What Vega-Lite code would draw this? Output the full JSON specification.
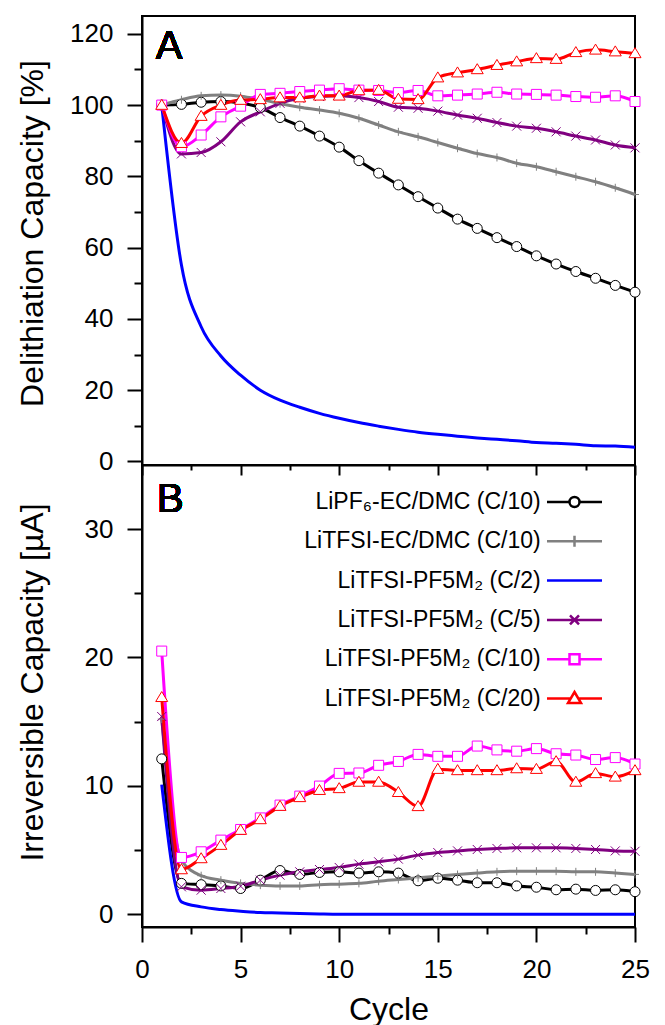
{
  "$schema": "https://vega.github.io/schema/vega-lite/v6.json",
  "padding": {"left": 14, "top": 15, "right": 10, "bottom": 5},
  "background": "white",
  "bounds": "flush",
  "spacing": 0,
  "config": {
    "view": {"stroke": "black", "strokeWidth": 2},
    "font": "Liberation Sans",
    "axis": {"domainColor": "black", "domainWidth": 2, "tickColor": "black", "tickWidth": 2, "labelFont": "Liberation Sans", "labelFontSize": 26, "labelColor": "black", "labelPadding": 14, "titleFont": "Liberation Sans", "titleFontSize": 32, "titleFontWeight": "normal", "titleColor": "black", "grid": false, "labelFlush": false, "labelOverlap": false}
  },
  "resolve": {"scale": {"x": "independent", "y": "independent", "color": "independent", "shape": "independent"}},
  "datasets": {
    "A": [
      {"s":"LiPF₆-EC/DMC (C/10)","c":1,"v":100},{"s":"LiPF₆-EC/DMC (C/10)","c":2,"v":100.2},{"s":"LiPF₆-EC/DMC (C/10)","c":3,"v":100.8},{"s":"LiPF₆-EC/DMC (C/10)","c":4,"v":101.0},{"s":"LiPF₆-EC/DMC (C/10)","c":5,"v":100.6},{"s":"LiPF₆-EC/DMC (C/10)","c":6,"v":99.3},{"s":"LiPF₆-EC/DMC (C/10)","c":7,"v":96.5},{"s":"LiPF₆-EC/DMC (C/10)","c":8,"v":94.1},{"s":"LiPF₆-EC/DMC (C/10)","c":9,"v":91.3},{"s":"LiPF₆-EC/DMC (C/10)","c":10,"v":88.2},{"s":"LiPF₆-EC/DMC (C/10)","c":11,"v":84.4},{"s":"LiPF₆-EC/DMC (C/10)","c":12,"v":80.9},{"s":"LiPF₆-EC/DMC (C/10)","c":13,"v":77.6},{"s":"LiPF₆-EC/DMC (C/10)","c":14,"v":74.3},{"s":"LiPF₆-EC/DMC (C/10)","c":15,"v":71.1},{"s":"LiPF₆-EC/DMC (C/10)","c":16,"v":68.0},{"s":"LiPF₆-EC/DMC (C/10)","c":17,"v":65.4},{"s":"LiPF₆-EC/DMC (C/10)","c":18,"v":62.8},{"s":"LiPF₆-EC/DMC (C/10)","c":19,"v":60.3},{"s":"LiPF₆-EC/DMC (C/10)","c":20,"v":57.7},{"s":"LiPF₆-EC/DMC (C/10)","c":21,"v":55.4},{"s":"LiPF₆-EC/DMC (C/10)","c":22,"v":53.3},{"s":"LiPF₆-EC/DMC (C/10)","c":23,"v":51.4},{"s":"LiPF₆-EC/DMC (C/10)","c":24,"v":49.4},{"s":"LiPF₆-EC/DMC (C/10)","c":25,"v":47.5},
      {"s":"LiTFSI-EC/DMC (C/10)","c":1,"v":100},{"s":"LiTFSI-EC/DMC (C/10)","c":2,"v":101.5},{"s":"LiTFSI-EC/DMC (C/10)","c":3,"v":102.6},{"s":"LiTFSI-EC/DMC (C/10)","c":4,"v":102.8},{"s":"LiTFSI-EC/DMC (C/10)","c":5,"v":102.5},{"s":"LiTFSI-EC/DMC (C/10)","c":6,"v":101.6},{"s":"LiTFSI-EC/DMC (C/10)","c":7,"v":100.4},{"s":"LiTFSI-EC/DMC (C/10)","c":8,"v":99.4},{"s":"LiTFSI-EC/DMC (C/10)","c":9,"v":98.6},{"s":"LiTFSI-EC/DMC (C/10)","c":10,"v":97.7},{"s":"LiTFSI-EC/DMC (C/10)","c":11,"v":96.3},{"s":"LiTFSI-EC/DMC (C/10)","c":12,"v":94.4},{"s":"LiTFSI-EC/DMC (C/10)","c":13,"v":92.5},{"s":"LiTFSI-EC/DMC (C/10)","c":14,"v":91.1},{"s":"LiTFSI-EC/DMC (C/10)","c":15,"v":89.5},{"s":"LiTFSI-EC/DMC (C/10)","c":16,"v":87.9},{"s":"LiTFSI-EC/DMC (C/10)","c":17,"v":86.4},{"s":"LiTFSI-EC/DMC (C/10)","c":18,"v":85.3},{"s":"LiTFSI-EC/DMC (C/10)","c":19,"v":83.7},{"s":"LiTFSI-EC/DMC (C/10)","c":20,"v":82.7},{"s":"LiTFSI-EC/DMC (C/10)","c":21,"v":81.3},{"s":"LiTFSI-EC/DMC (C/10)","c":22,"v":79.9},{"s":"LiTFSI-EC/DMC (C/10)","c":23,"v":78.5},{"s":"LiTFSI-EC/DMC (C/10)","c":24,"v":76.8},{"s":"LiTFSI-EC/DMC (C/10)","c":25,"v":74.9},
      {"s":"LiTFSI-PF5M₂ (C/2)","c":1,"v":100},{"s":"LiTFSI-PF5M₂ (C/2)","c":2,"v":55.1},{"s":"LiTFSI-PF5M₂ (C/2)","c":3,"v":37.8},{"s":"LiTFSI-PF5M₂ (C/2)","c":4,"v":29.6},{"s":"LiTFSI-PF5M₂ (C/2)","c":5,"v":24.2},{"s":"LiTFSI-PF5M₂ (C/2)","c":6,"v":20.0},{"s":"LiTFSI-PF5M₂ (C/2)","c":7,"v":17.2},{"s":"LiTFSI-PF5M₂ (C/2)","c":8,"v":15.2},{"s":"LiTFSI-PF5M₂ (C/2)","c":9,"v":13.5},{"s":"LiTFSI-PF5M₂ (C/2)","c":10,"v":12.1},{"s":"LiTFSI-PF5M₂ (C/2)","c":11,"v":10.9},{"s":"LiTFSI-PF5M₂ (C/2)","c":12,"v":9.9},{"s":"LiTFSI-PF5M₂ (C/2)","c":13,"v":9.0},{"s":"LiTFSI-PF5M₂ (C/2)","c":14,"v":8.2},{"s":"LiTFSI-PF5M₂ (C/2)","c":15,"v":7.6},{"s":"LiTFSI-PF5M₂ (C/2)","c":16,"v":7.1},{"s":"LiTFSI-PF5M₂ (C/2)","c":17,"v":6.6},{"s":"LiTFSI-PF5M₂ (C/2)","c":18,"v":6.2},{"s":"LiTFSI-PF5M₂ (C/2)","c":19,"v":5.8},{"s":"LiTFSI-PF5M₂ (C/2)","c":20,"v":5.3},{"s":"LiTFSI-PF5M₂ (C/2)","c":21,"v":5.1},{"s":"LiTFSI-PF5M₂ (C/2)","c":22,"v":4.8},{"s":"LiTFSI-PF5M₂ (C/2)","c":23,"v":4.4},{"s":"LiTFSI-PF5M₂ (C/2)","c":24,"v":4.3},{"s":"LiTFSI-PF5M₂ (C/2)","c":25,"v":4.0},
      {"s":"LiTFSI-PF5M₂ (C/5)","c":1,"v":100},{"s":"LiTFSI-PF5M₂ (C/5)","c":2,"v":86.3},{"s":"LiTFSI-PF5M₂ (C/5)","c":3,"v":86.7},{"s":"LiTFSI-PF5M₂ (C/5)","c":4,"v":89.7},{"s":"LiTFSI-PF5M₂ (C/5)","c":5,"v":95.3},{"s":"LiTFSI-PF5M₂ (C/5)","c":6,"v":98.1},{"s":"LiTFSI-PF5M₂ (C/5)","c":7,"v":100.5},{"s":"LiTFSI-PF5M₂ (C/5)","c":8,"v":101.9},{"s":"LiTFSI-PF5M₂ (C/5)","c":9,"v":102.4},{"s":"LiTFSI-PF5M₂ (C/5)","c":10,"v":102.6},{"s":"LiTFSI-PF5M₂ (C/5)","c":11,"v":102.1},{"s":"LiTFSI-PF5M₂ (C/5)","c":12,"v":101.0},{"s":"LiTFSI-PF5M₂ (C/5)","c":13,"v":99.4},{"s":"LiTFSI-PF5M₂ (C/5)","c":14,"v":99.1},{"s":"LiTFSI-PF5M₂ (C/5)","c":15,"v":98.3},{"s":"LiTFSI-PF5M₂ (C/5)","c":16,"v":97.2},{"s":"LiTFSI-PF5M₂ (C/5)","c":17,"v":96.3},{"s":"LiTFSI-PF5M₂ (C/5)","c":18,"v":95.1},{"s":"LiTFSI-PF5M₂ (C/5)","c":19,"v":94.1},{"s":"LiTFSI-PF5M₂ (C/5)","c":20,"v":93.5},{"s":"LiTFSI-PF5M₂ (C/5)","c":21,"v":92.5},{"s":"LiTFSI-PF5M₂ (C/5)","c":22,"v":91.3},{"s":"LiTFSI-PF5M₂ (C/5)","c":23,"v":90.2},{"s":"LiTFSI-PF5M₂ (C/5)","c":24,"v":88.8},{"s":"LiTFSI-PF5M₂ (C/5)","c":25,"v":88.0},
      {"s":"LiTFSI-PF5M₂ (C/10)","c":1,"v":100},{"s":"LiTFSI-PF5M₂ (C/10)","c":2,"v":88.3},{"s":"LiTFSI-PF5M₂ (C/10)","c":3,"v":91.6},{"s":"LiTFSI-PF5M₂ (C/10)","c":4,"v":96.7},{"s":"LiTFSI-PF5M₂ (C/10)","c":5,"v":99.7},{"s":"LiTFSI-PF5M₂ (C/10)","c":6,"v":103.0},{"s":"LiTFSI-PF5M₂ (C/10)","c":7,"v":103.3},{"s":"LiTFSI-PF5M₂ (C/10)","c":8,"v":103.8},{"s":"LiTFSI-PF5M₂ (C/10)","c":9,"v":104.2},{"s":"LiTFSI-PF5M₂ (C/10)","c":10,"v":104.6},{"s":"LiTFSI-PF5M₂ (C/10)","c":11,"v":104.2},{"s":"LiTFSI-PF5M₂ (C/10)","c":12,"v":104.1},{"s":"LiTFSI-PF5M₂ (C/10)","c":13,"v":103.5},{"s":"LiTFSI-PF5M₂ (C/10)","c":14,"v":104.1},{"s":"LiTFSI-PF5M₂ (C/10)","c":15,"v":102.6},{"s":"LiTFSI-PF5M₂ (C/10)","c":16,"v":102.8},{"s":"LiTFSI-PF5M₂ (C/10)","c":17,"v":103.1},{"s":"LiTFSI-PF5M₂ (C/10)","c":18,"v":103.6},{"s":"LiTFSI-PF5M₂ (C/10)","c":19,"v":103.1},{"s":"LiTFSI-PF5M₂ (C/10)","c":20,"v":103.0},{"s":"LiTFSI-PF5M₂ (C/10)","c":21,"v":102.8},{"s":"LiTFSI-PF5M₂ (C/10)","c":22,"v":102.4},{"s":"LiTFSI-PF5M₂ (C/10)","c":23,"v":102.2},{"s":"LiTFSI-PF5M₂ (C/10)","c":24,"v":102.6},{"s":"LiTFSI-PF5M₂ (C/10)","c":25,"v":101.0},
      {"s":"LiTFSI-PF5M₂ (C/20)","c":1,"v":100},{"s":"LiTFSI-PF5M₂ (C/20)","c":2,"v":89.3},{"s":"LiTFSI-PF5M₂ (C/20)","c":3,"v":96.9},{"s":"LiTFSI-PF5M₂ (C/20)","c":4,"v":100.0},{"s":"LiTFSI-PF5M₂ (C/20)","c":5,"v":101.4},{"s":"LiTFSI-PF5M₂ (C/20)","c":6,"v":101.6},{"s":"LiTFSI-PF5M₂ (C/20)","c":7,"v":102.1},{"s":"LiTFSI-PF5M₂ (C/20)","c":8,"v":102.1},{"s":"LiTFSI-PF5M₂ (C/20)","c":9,"v":102.6},{"s":"LiTFSI-PF5M₂ (C/20)","c":10,"v":102.6},{"s":"LiTFSI-PF5M₂ (C/20)","c":11,"v":104.1},{"s":"LiTFSI-PF5M₂ (C/20)","c":12,"v":104.2},{"s":"LiTFSI-PF5M₂ (C/20)","c":13,"v":101.7},{"s":"LiTFSI-PF5M₂ (C/20)","c":14,"v":101.6},{"s":"LiTFSI-PF5M₂ (C/20)","c":15,"v":107.7},{"s":"LiTFSI-PF5M₂ (C/20)","c":16,"v":109.1},{"s":"LiTFSI-PF5M₂ (C/20)","c":17,"v":110.0},{"s":"LiTFSI-PF5M₂ (C/20)","c":18,"v":111.2},{"s":"LiTFSI-PF5M₂ (C/20)","c":19,"v":112.2},{"s":"LiTFSI-PF5M₂ (C/20)","c":20,"v":113.1},{"s":"LiTFSI-PF5M₂ (C/20)","c":21,"v":112.9},{"s":"LiTFSI-PF5M₂ (C/20)","c":22,"v":114.8},{"s":"LiTFSI-PF5M₂ (C/20)","c":23,"v":115.5},{"s":"LiTFSI-PF5M₂ (C/20)","c":24,"v":115.0},{"s":"LiTFSI-PF5M₂ (C/20)","c":25,"v":114.5}
    ],
    "B": [
      {"s":"LiPF₆-EC/DMC (C/10)","c":1,"v":12.1},{"s":"LiPF₆-EC/DMC (C/10)","c":2,"v":2.4},{"s":"LiPF₆-EC/DMC (C/10)","c":3,"v":2.3},{"s":"LiPF₆-EC/DMC (C/10)","c":4,"v":2.2},{"s":"LiPF₆-EC/DMC (C/10)","c":5,"v":2.0},{"s":"LiPF₆-EC/DMC (C/10)","c":6,"v":2.65},{"s":"LiPF₆-EC/DMC (C/10)","c":7,"v":3.4},{"s":"LiPF₆-EC/DMC (C/10)","c":8,"v":3.1},{"s":"LiPF₆-EC/DMC (C/10)","c":9,"v":3.25},{"s":"LiPF₆-EC/DMC (C/10)","c":10,"v":3.3},{"s":"LiPF₆-EC/DMC (C/10)","c":11,"v":3.2},{"s":"LiPF₆-EC/DMC (C/10)","c":12,"v":3.3},{"s":"LiPF₆-EC/DMC (C/10)","c":13,"v":3.2},{"s":"LiPF₆-EC/DMC (C/10)","c":14,"v":2.6},{"s":"LiPF₆-EC/DMC (C/10)","c":15,"v":2.8},{"s":"LiPF₆-EC/DMC (C/10)","c":16,"v":2.65},{"s":"LiPF₆-EC/DMC (C/10)","c":17,"v":2.45},{"s":"LiPF₆-EC/DMC (C/10)","c":18,"v":2.45},{"s":"LiPF₆-EC/DMC (C/10)","c":19,"v":2.2},{"s":"LiPF₆-EC/DMC (C/10)","c":20,"v":2.1},{"s":"LiPF₆-EC/DMC (C/10)","c":21,"v":1.9},{"s":"LiPF₆-EC/DMC (C/10)","c":22,"v":1.95},{"s":"LiPF₆-EC/DMC (C/10)","c":23,"v":1.85},{"s":"LiPF₆-EC/DMC (C/10)","c":24,"v":1.9},{"s":"LiPF₆-EC/DMC (C/10)","c":25,"v":1.75},
      {"s":"LiTFSI-EC/DMC (C/10)","c":1,"v":15.2},{"s":"LiTFSI-EC/DMC (C/10)","c":2,"v":4.2},{"s":"LiTFSI-EC/DMC (C/10)","c":3,"v":3.0},{"s":"LiTFSI-EC/DMC (C/10)","c":4,"v":2.65},{"s":"LiTFSI-EC/DMC (C/10)","c":5,"v":2.4},{"s":"LiTFSI-EC/DMC (C/10)","c":6,"v":2.26},{"s":"LiTFSI-EC/DMC (C/10)","c":7,"v":2.2},{"s":"LiTFSI-EC/DMC (C/10)","c":8,"v":2.2},{"s":"LiTFSI-EC/DMC (C/10)","c":9,"v":2.3},{"s":"LiTFSI-EC/DMC (C/10)","c":10,"v":2.34},{"s":"LiTFSI-EC/DMC (C/10)","c":11,"v":2.4},{"s":"LiTFSI-EC/DMC (C/10)","c":12,"v":2.57},{"s":"LiTFSI-EC/DMC (C/10)","c":13,"v":2.7},{"s":"LiTFSI-EC/DMC (C/10)","c":14,"v":2.83},{"s":"LiTFSI-EC/DMC (C/10)","c":15,"v":2.96},{"s":"LiTFSI-EC/DMC (C/10)","c":16,"v":3.09},{"s":"LiTFSI-EC/DMC (C/10)","c":17,"v":3.2},{"s":"LiTFSI-EC/DMC (C/10)","c":18,"v":3.3},{"s":"LiTFSI-EC/DMC (C/10)","c":19,"v":3.35},{"s":"LiTFSI-EC/DMC (C/10)","c":20,"v":3.35},{"s":"LiTFSI-EC/DMC (C/10)","c":21,"v":3.35},{"s":"LiTFSI-EC/DMC (C/10)","c":22,"v":3.3},{"s":"LiTFSI-EC/DMC (C/10)","c":23,"v":3.3},{"s":"LiTFSI-EC/DMC (C/10)","c":24,"v":3.2},{"s":"LiTFSI-EC/DMC (C/10)","c":25,"v":3.1},
      {"s":"LiTFSI-PF5M₂ (C/2)","c":1,"v":10.1},{"s":"LiTFSI-PF5M₂ (C/2)","c":2,"v":0.96},{"s":"LiTFSI-PF5M₂ (C/2)","c":3,"v":0.57},{"s":"LiTFSI-PF5M₂ (C/2)","c":4,"v":0.36},{"s":"LiTFSI-PF5M₂ (C/2)","c":5,"v":0.23},{"s":"LiTFSI-PF5M₂ (C/2)","c":6,"v":0.13},{"s":"LiTFSI-PF5M₂ (C/2)","c":7,"v":0.1},{"s":"LiTFSI-PF5M₂ (C/2)","c":8,"v":0.05},{"s":"LiTFSI-PF5M₂ (C/2)","c":9,"v":0.02},{"s":"LiTFSI-PF5M₂ (C/2)","c":10,"v":0},{"s":"LiTFSI-PF5M₂ (C/2)","c":11,"v":0},{"s":"LiTFSI-PF5M₂ (C/2)","c":12,"v":0},{"s":"LiTFSI-PF5M₂ (C/2)","c":13,"v":0},{"s":"LiTFSI-PF5M₂ (C/2)","c":14,"v":0},{"s":"LiTFSI-PF5M₂ (C/2)","c":15,"v":0},{"s":"LiTFSI-PF5M₂ (C/2)","c":16,"v":0},{"s":"LiTFSI-PF5M₂ (C/2)","c":17,"v":0},{"s":"LiTFSI-PF5M₂ (C/2)","c":18,"v":0},{"s":"LiTFSI-PF5M₂ (C/2)","c":19,"v":0},{"s":"LiTFSI-PF5M₂ (C/2)","c":20,"v":0},{"s":"LiTFSI-PF5M₂ (C/2)","c":21,"v":0},{"s":"LiTFSI-PF5M₂ (C/2)","c":22,"v":0},{"s":"LiTFSI-PF5M₂ (C/2)","c":23,"v":0},{"s":"LiTFSI-PF5M₂ (C/2)","c":24,"v":0},{"s":"LiTFSI-PF5M₂ (C/2)","c":25,"v":0},
      {"s":"LiTFSI-PF5M₂ (C/5)","c":1,"v":15.4},{"s":"LiTFSI-PF5M₂ (C/5)","c":2,"v":2.13},{"s":"LiTFSI-PF5M₂ (C/5)","c":3,"v":1.87},{"s":"LiTFSI-PF5M₂ (C/5)","c":4,"v":2.0},{"s":"LiTFSI-PF5M₂ (C/5)","c":5,"v":2.18},{"s":"LiTFSI-PF5M₂ (C/5)","c":6,"v":2.65},{"s":"LiTFSI-PF5M₂ (C/5)","c":7,"v":3.04},{"s":"LiTFSI-PF5M₂ (C/5)","c":8,"v":3.3},{"s":"LiTFSI-PF5M₂ (C/5)","c":9,"v":3.48},{"s":"LiTFSI-PF5M₂ (C/5)","c":10,"v":3.64},{"s":"LiTFSI-PF5M₂ (C/5)","c":11,"v":3.9},{"s":"LiTFSI-PF5M₂ (C/5)","c":12,"v":4.08},{"s":"LiTFSI-PF5M₂ (C/5)","c":13,"v":4.29},{"s":"LiTFSI-PF5M₂ (C/5)","c":14,"v":4.6},{"s":"LiTFSI-PF5M₂ (C/5)","c":15,"v":4.8},{"s":"LiTFSI-PF5M₂ (C/5)","c":16,"v":4.93},{"s":"LiTFSI-PF5M₂ (C/5)","c":17,"v":5.04},{"s":"LiTFSI-PF5M₂ (C/5)","c":18,"v":5.12},{"s":"LiTFSI-PF5M₂ (C/5)","c":19,"v":5.17},{"s":"LiTFSI-PF5M₂ (C/5)","c":20,"v":5.17},{"s":"LiTFSI-PF5M₂ (C/5)","c":21,"v":5.17},{"s":"LiTFSI-PF5M₂ (C/5)","c":22,"v":5.12},{"s":"LiTFSI-PF5M₂ (C/5)","c":23,"v":5.04},{"s":"LiTFSI-PF5M₂ (C/5)","c":24,"v":4.93},{"s":"LiTFSI-PF5M₂ (C/5)","c":25,"v":4.9},
      {"s":"LiTFSI-PF5M₂ (C/10)","c":1,"v":20.5},{"s":"LiTFSI-PF5M₂ (C/10)","c":2,"v":4.42},{"s":"LiTFSI-PF5M₂ (C/10)","c":3,"v":4.86},{"s":"LiTFSI-PF5M₂ (C/10)","c":4,"v":5.77},{"s":"LiTFSI-PF5M₂ (C/10)","c":5,"v":6.6},{"s":"LiTFSI-PF5M₂ (C/10)","c":6,"v":7.5},{"s":"LiTFSI-PF5M₂ (C/10)","c":7,"v":8.5},{"s":"LiTFSI-PF5M₂ (C/10)","c":8,"v":9.2},{"s":"LiTFSI-PF5M₂ (C/10)","c":9,"v":9.98},{"s":"LiTFSI-PF5M₂ (C/10)","c":10,"v":10.97},{"s":"LiTFSI-PF5M₂ (C/10)","c":11,"v":11.0},{"s":"LiTFSI-PF5M₂ (C/10)","c":12,"v":11.6},{"s":"LiTFSI-PF5M₂ (C/10)","c":13,"v":11.9},{"s":"LiTFSI-PF5M₂ (C/10)","c":14,"v":12.45},{"s":"LiTFSI-PF5M₂ (C/10)","c":15,"v":12.3},{"s":"LiTFSI-PF5M₂ (C/10)","c":16,"v":12.3},{"s":"LiTFSI-PF5M₂ (C/10)","c":17,"v":13.1},{"s":"LiTFSI-PF5M₂ (C/10)","c":18,"v":12.8},{"s":"LiTFSI-PF5M₂ (C/10)","c":19,"v":12.7},{"s":"LiTFSI-PF5M₂ (C/10)","c":20,"v":12.9},{"s":"LiTFSI-PF5M₂ (C/10)","c":21,"v":12.5},{"s":"LiTFSI-PF5M₂ (C/10)","c":22,"v":12.4},{"s":"LiTFSI-PF5M₂ (C/10)","c":23,"v":12.05},{"s":"LiTFSI-PF5M₂ (C/10)","c":24,"v":12.2},{"s":"LiTFSI-PF5M₂ (C/10)","c":25,"v":11.7},
      {"s":"LiTFSI-PF5M₂ (C/20)","c":1,"v":16.9},{"s":"LiTFSI-PF5M₂ (C/20)","c":2,"v":3.48},{"s":"LiTFSI-PF5M₂ (C/20)","c":3,"v":4.34},{"s":"LiTFSI-PF5M₂ (C/20)","c":4,"v":5.38},{"s":"LiTFSI-PF5M₂ (C/20)","c":5,"v":6.55},{"s":"LiTFSI-PF5M₂ (C/20)","c":6,"v":7.38},{"s":"LiTFSI-PF5M₂ (C/20)","c":7,"v":8.42},{"s":"LiTFSI-PF5M₂ (C/20)","c":8,"v":9.1},{"s":"LiTFSI-PF5M₂ (C/20)","c":9,"v":9.66},{"s":"LiTFSI-PF5M₂ (C/20)","c":10,"v":9.8},{"s":"LiTFSI-PF5M₂ (C/20)","c":11,"v":10.3},{"s":"LiTFSI-PF5M₂ (C/20)","c":12,"v":10.3},{"s":"LiTFSI-PF5M₂ (C/20)","c":13,"v":9.5},{"s":"LiTFSI-PF5M₂ (C/20)","c":14,"v":8.4},{"s":"LiTFSI-PF5M₂ (C/20)","c":15,"v":11.3},{"s":"LiTFSI-PF5M₂ (C/20)","c":16,"v":11.2},{"s":"LiTFSI-PF5M₂ (C/20)","c":17,"v":11.2},{"s":"LiTFSI-PF5M₂ (C/20)","c":18,"v":11.2},{"s":"LiTFSI-PF5M₂ (C/20)","c":19,"v":11.35},{"s":"LiTFSI-PF5M₂ (C/20)","c":20,"v":11.3},{"s":"LiTFSI-PF5M₂ (C/20)","c":21,"v":11.9},{"s":"LiTFSI-PF5M₂ (C/20)","c":22,"v":10.3},{"s":"LiTFSI-PF5M₂ (C/20)","c":23,"v":10.97},{"s":"LiTFSI-PF5M₂ (C/20)","c":24,"v":10.7},{"s":"LiTFSI-PF5M₂ (C/20)","c":25,"v":11.2}
    ]
  },
  "vconcat": [
    {
      "width": 493, "height": 449,
      "data": {"name": "A"},
      "resolve": {"axis": {"x": "independent", "y": "independent"}},
      "layer": [
        {
          "mark": {"type": "line", "strokeWidth": 3, "interpolate": "monotone"},
          "encoding": {
            "x": {"field": "c", "type": "quantitative", "scale": {"domain": [0, 25], "nice": false}, "axis": {"orient": "bottom", "values": [0, 5, 10, 15, 20, 25], "labels": false, "title": null, "tickSize": 10}},
            "y": {"field": "v", "type": "quantitative", "scale": {"domain": [-1, 125], "nice": false, "zero": false}, "axis": {"orient": "left", "values": [0, 20, 40, 60, 80, 100, 120], "title": "Delithiation Capacity [%]", "tickSize": 15, "titleX": -93, "titleY": 217}},
            "color": {"field": "s", "type": "nominal", "scale": {"domain": ["LiPF₆-EC/DMC (C/10)", "LiTFSI-EC/DMC (C/10)", "LiTFSI-PF5M₂ (C/2)", "LiTFSI-PF5M₂ (C/5)", "LiTFSI-PF5M₂ (C/10)", "LiTFSI-PF5M₂ (C/20)"], "range": ["#000000", "#808080", "#0000ff", "#800080", "#ff00ff", "#ff0000"]}, "legend": null}
          }
        },
        {
          "mark": {"type": "point", "fill": "white", "fillOpacity": 1, "opacity": 1, "strokeWidth": 1, "size": 100},
          "encoding": {
            "x": {"field": "c", "type": "quantitative", "axis": {"orient": "bottom", "values": [2.5, 7.5, 12.5, 17.5, 22.5], "labels": false, "title": null, "tickSize": 5, "domain": false}},
            "y": {"field": "v", "type": "quantitative", "axis": {"orient": "left", "values": [10, 30, 50, 70, 90, 110], "labels": false, "title": null, "tickSize": 8, "domain": false}},
            "color": {"field": "s", "type": "nominal", "legend": null},
            "shape": {"field": "s", "type": "nominal", "scale": {"domain": ["LiTFSI-PF5M₂ (C/20)", "LiTFSI-PF5M₂ (C/10)", "LiTFSI-PF5M₂ (C/5)", "LiTFSI-PF5M₂ (C/2)", "LiTFSI-EC/DMC (C/10)", "LiPF₆-EC/DMC (C/10)"], "range": ["M0,-1.15L1.2,0.85H-1.2Z", "square", "M-0.9,-0.9L0.9,0.9M-0.9,0.9L0.9,-0.9", "M0,0", "M-0.8,0H0.8M0,-0.8V0.8", "circle"]}, "legend": null}
          }
        },
        {
          "mark": {"type": "text", "text": "A", "fontSize": 40, "fontWeight": "normal", "font": "Liberation Sans", "align": "left", "baseline": "alphabetic", "fill": "black"},
          "encoding": {
            "x": {"datum": 0.7, "type": "quantitative", "axis": null},
            "y": {"datum": 113, "type": "quantitative", "axis": null}
          }
        }
      ]
    },
    {
      "width": 493, "height": 462,
      "data": {"name": "B"},
      "resolve": {"axis": {"x": "independent", "y": "independent"}},
      "layer": [
        {
          "mark": {"type": "line", "strokeWidth": 3, "interpolate": "monotone"},
          "encoding": {
            "x": {"field": "c", "type": "quantitative", "scale": {"domain": [0, 25], "nice": false}, "axis": {"orient": "bottom", "values": [0, 5, 10, 15, 20, 25], "title": "Cycle", "tickSize": 15, "titlePadding": 12}},
            "y": {"field": "v", "type": "quantitative", "scale": {"domain": [-1, 35], "nice": false, "zero": false}, "axis": {"orient": "left", "values": [0, 10, 20, 30], "title": "Irreversible Capacity [µA]", "tickSize": 15, "titleX": -93, "titleY": 217}},
            "color": {"field": "s", "type": "nominal", "scale": {"domain": ["LiPF₆-EC/DMC (C/10)", "LiTFSI-EC/DMC (C/10)", "LiTFSI-PF5M₂ (C/2)", "LiTFSI-PF5M₂ (C/5)", "LiTFSI-PF5M₂ (C/10)", "LiTFSI-PF5M₂ (C/20)"], "range": ["#000000", "#808080", "#0000ff", "#800080", "#ff00ff", "#ff0000"]},
              "legend": {"orient": "none", "legendX": 421, "legendY": 25.5, "title": null, "padding": 0, "labelAlign": "right", "labelOffset": -45.3, "labelFontSize": 23, "labelFont": "Liberation Sans", "labelColor": "black", "labelLimit": 400, "rowPadding": 15.3, "symbolSize": 100, "symbolStrokeWidth": 2.5, "symbolFillColor": "white",
                "encode": {"symbols": {"update": {"fill": {"value": "white"}, "strokeWidth": {"value": 2.5}, "opacity": {"value": 1}, "size": {"value": 100},
                  "shape": {"signal": "datum.value === 'LiPF₆-EC/DMC (C/10)' ? 'M-5.5,0H-1M1,0H5.5M1,0A1,1,0,1,1,-1,0A1,1,0,1,1,1,0Z' : datum.value === 'LiTFSI-EC/DMC (C/10)' ? 'M-5.5,0H5.5M0,-1.1V1.1' : datum.value === 'LiTFSI-PF5M₂ (C/2)' ? 'M-5.5,0H5.5' : datum.value === 'LiTFSI-PF5M₂ (C/5)' ? 'M-5.5,0H5.5M-0.9,-0.9L0.9,0.9M-0.9,0.9L0.9,-0.9' : datum.value === 'LiTFSI-PF5M₂ (C/10)' ? 'M-5.5,0H-1M1,0H5.5M-1,-1H1V1H-1Z' : 'M-5.5,0H-0.77M0.77,0H5.5M0,-1.3L1.3,0.9H-1.3Z'"}}}}}}
          }
        },
        {
          "mark": {"type": "point", "fill": "white", "fillOpacity": 1, "opacity": 1, "strokeWidth": 1, "size": 100},
          "encoding": {
            "x": {"field": "c", "type": "quantitative", "axis": {"orient": "bottom", "values": [2.5, 7.5, 12.5, 17.5, 22.5], "labels": false, "title": null, "tickSize": 7, "domain": false}},
            "y": {"field": "v", "type": "quantitative", "axis": {"orient": "left", "values": [5, 15, 25], "labels": false, "title": null, "tickSize": 8, "domain": false}},
            "color": {"field": "s", "type": "nominal", "legend": null},
            "shape": {"field": "s", "type": "nominal", "scale": {"domain": ["LiTFSI-PF5M₂ (C/20)", "LiTFSI-PF5M₂ (C/10)", "LiTFSI-PF5M₂ (C/5)", "LiTFSI-PF5M₂ (C/2)", "LiTFSI-EC/DMC (C/10)", "LiPF₆-EC/DMC (C/10)"], "range": ["M0,-1.15L1.2,0.85H-1.2Z", "square", "M-0.9,-0.9L0.9,0.9M-0.9,0.9L0.9,-0.9", "M0,0", "M-0.8,0H0.8M0,-0.8V0.8", "circle"]}, "legend": null}
          }
        },
        {
          "mark": {"type": "text", "text": "B", "fontSize": 40, "fontWeight": "normal", "font": "Liberation Sans", "align": "left", "baseline": "alphabetic", "fill": "black"},
          "encoding": {
            "x": {"datum": 0.76, "type": "quantitative", "axis": null},
            "y": {"datum": 31.3, "type": "quantitative", "axis": null}
          }
        }
      ]
    }
  ]
}
